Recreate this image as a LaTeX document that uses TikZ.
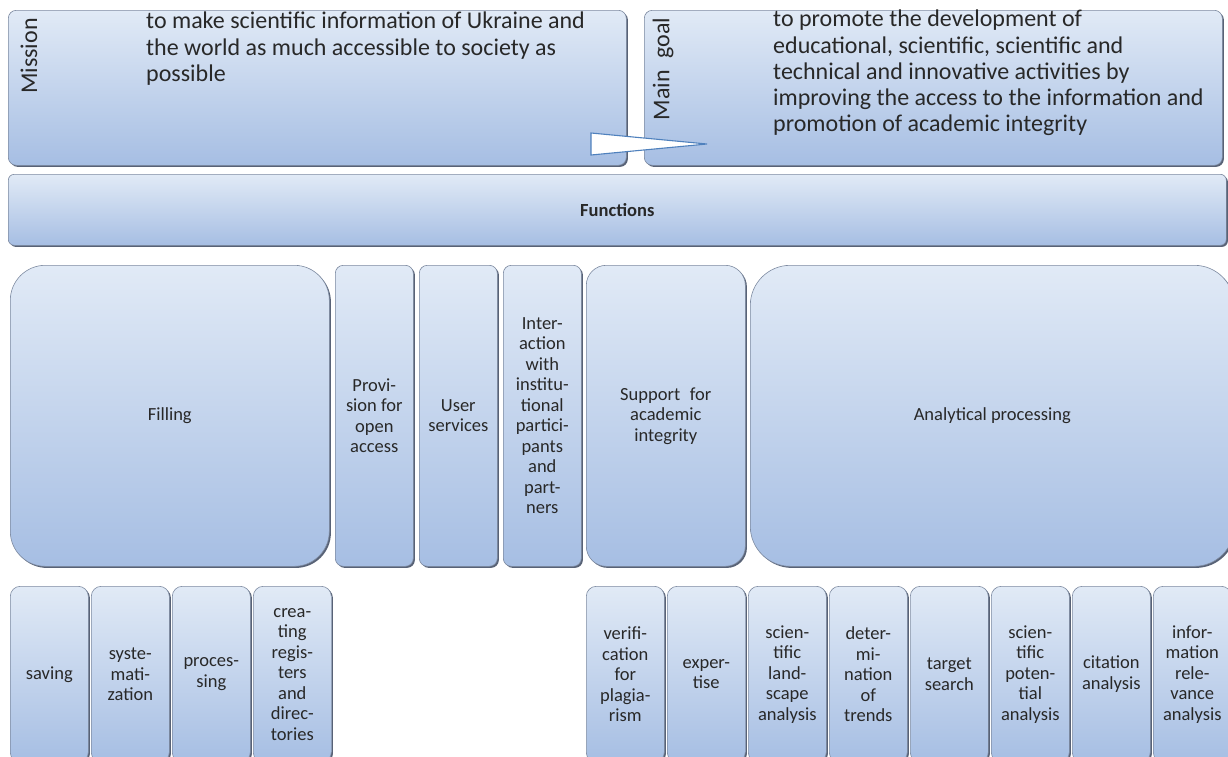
\documentclass[tikz,border=0pt]{standalone}
\usepackage{fontspec}
\setmainfont{Carlito}
\usepackage{tikz}
\usetikzlibrary{shadows}
\definecolor{boxtop}{RGB}{225,234,246}
\definecolor{boxbot}{RGB}{166,190,227}
\definecolor{boxline}{RGB}{125,138,160}
\definecolor{boxshade}{RGB}{88,98,118}
\definecolor{inktext}{RGB}{40,40,40}
\definecolor{wedgeline}{RGB}{79,129,189}
\tikzset{
	panel/.style={draw=boxline, line width=0.6pt, top color=boxtop, bottom color=boxbot,
		drop shadow={shadow xshift=1.6pt, shadow yshift=-1.6pt, fill=boxshade, opacity=1},
		anchor=north west, inner sep=0pt, text=inktext, align=center,
		font=\fontsize{18.5}{20.5}\selectfont},
	narrow/.style={panel, minimum width=78pt, minimum height=301pt, rounded corners=8pt},
	leaf/.style={panel, minimum width=78pt, minimum height=176pt, rounded corners=10pt},
	bigtext/.style={anchor=north west, inner sep=0pt, align=left, text=inktext,
		font=\fontsize{24}{26.2}\selectfont},
	sidetext/.style={rotate=90, inner sep=0pt, text=inktext, font=\fontsize{24}{26}\selectfont}
}

\begin{document}
\begin{tikzpicture}[x=1pt, y=-1pt]
		%%%%% START %%%%%
		\useasboundingbox (0, 0) rectangle (1228, 756);
		
		% mission and main goal
		\node[panel, minimum width=618pt, minimum height=155pt, rounded corners=8pt] (mission) at (8, 10) {};
		\node[panel, minimum width=578pt, minimum height=155pt, rounded corners=8pt] (goal) at (644, 10) {};
		\node[sidetext] (missionlbl) at (29, 56) {Mission};
		\node[sidetext] (goallbl) at (663, 69) {Main\hspace{0.5em}goal};
		\node[bigtext] (missiontxt) at (146, 12) {to make scientific information of Ukraine and\\the world as much accessible to society as\\possible};
		\node[bigtext] (goaltxt) at (773, 10) {to promote the development of\\educational, scientific, scientific and\\technical and innovative activities by\\improving the access to the information and\\promotion of academic integrity};
		
		\coordinate (tip) at (707, 144);
		\draw[line width=1.1pt, color=wedgeline, fill=white] (591, 133) -- (tip) -- (591, 155) -- cycle;
		
		% functions
		\node[panel, minimum width=1218pt, minimum height=71pt, rounded corners=6pt] (functions) at (8, 174) {\textbf{Functions}};
		
		% middle row
		\node[panel, minimum width=319pt, minimum height=301pt, rounded corners=35pt] (filling) at (10, 265) {Filling};
		\node[narrow] (provision) at (335, 265) {Provi-\\sion for\\open\\access};
		\node[narrow] (users) at (419, 265) {User\\services};
		\node[narrow] (interact) at (503, 265) {Inter-\\action\\with\\institu-\\tional\\partici-\\pants\\and\\part-\\ners};
		\node[panel, minimum width=159pt, minimum height=301pt, rounded corners=20pt] (support) at (586, 265) {Support\hspace{0.3em} for\\academic\\integrity};
		\node[panel, minimum width=484pt, minimum height=301pt, rounded corners=40pt] (analytic) at (750, 265) {Analytical processing};
		
		% bottom row
		\node[leaf] (saving) at (10, 586) {saving};
		\node[leaf] (systematize) at (91, 586) {syste-\\mati-\\zation};
		\node[leaf] (processing) at (172, 586) {proces-\\sing};
		\node[leaf] (registers) at (253, 586) {crea-\\ting\\regis-\\ters\\and\\direc-\\tories};
		
		\node[leaf] (plagiarism) at (586, 586) {verifi-\\cation\\for\\plagia-\\rism};
		\node[leaf] (expertise) at (667, 586) {exper-\\tise};
		\node[leaf] (landscape) at (748, 586) {scien-\\tific\\land-\\scape\\analysis};
		\node[leaf] (trends) at (829, 586) {deter-\\mi-\\nation\\of\\trends};
		\node[leaf] (target) at (910, 586) {target\\search};
		\node[leaf] (potential) at (991, 586) {scien-\\tific\\poten-\\tial\\analysis};
		\node[leaf] (citation) at (1072, 586) {citation\\analysis};
		\node[leaf] (relevance) at (1153, 586) {infor-\\mation\\rele-\\vance\\analysis};
		%%%%% END %%%%%
	\end{tikzpicture}
\end{document}
